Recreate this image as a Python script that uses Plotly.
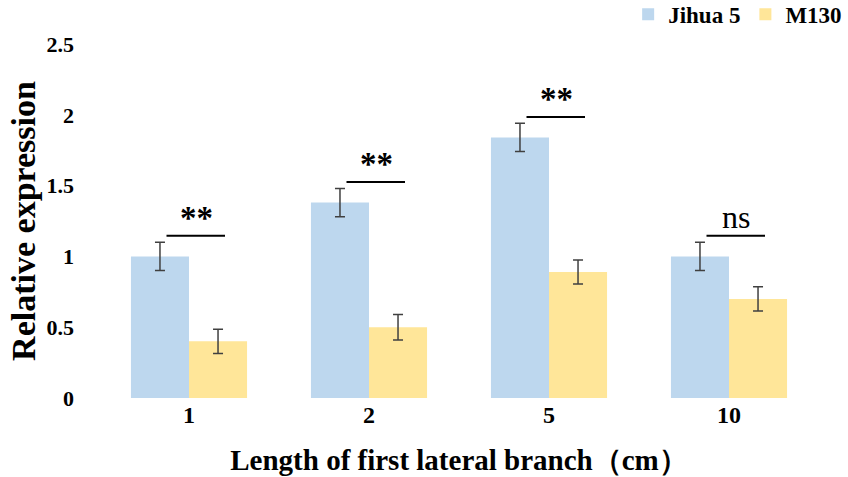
import plotly.graph_objects as go

categories = ["1", "2", "5", "10"]
jihua5 = [1.0, 1.38, 1.84, 1.0]
jihua5_err = [0.1, 0.1, 0.1, 0.1]
m130 = [0.4, 0.5, 0.89, 0.7]
m130_err = [0.085, 0.09, 0.085, 0.085]
sig_labels = ["**", "**", "**", "ns"]

BLUE = "#BDD7EE"
YELLOW = "#FFE699"
FONT = "Liberation Serif"

fig = go.Figure()
fig.add_trace(go.Bar(
    x=categories, y=jihua5, name="Jihua 5", marker=dict(color=BLUE, line=dict(width=0)),
    error_y=dict(type="data", array=jihua5_err, color="#404040", thickness=1.5, width=5),
))
fig.add_trace(go.Bar(
    x=categories, y=m130, name="M130", marker=dict(color=YELLOW, line=dict(width=0)),
    error_y=dict(type="data", array=m130_err, color="#404040", thickness=1.5, width=5),
))

for i, lab in enumerate(sig_labels):
    top = max(jihua5[i] + jihua5_err[i], m130[i] + m130_err[i])
    line_y = top + 0.045
    fig.add_shape(type="line", xref="x", yref="y", x0=i - 0.125, x1=i + 0.2,
                  y0=line_y, y1=line_y, line=dict(color="black", width=2))
    if lab == "ns":
        fig.add_annotation(x=i + 0.04, y=line_y, text=lab, showarrow=False, yanchor="bottom",
                           yshift=-1, font=dict(family=FONT, size=32, color="black"))
    else:
        fig.add_annotation(x=i + 0.04, y=line_y, text=lab, showarrow=False, yanchor="bottom",
                           yshift=-2, font=dict(family=FONT, size=33, color="black", weight="bold"))

fig.update_layout(
    width=848, height=477,
    margin=dict(l=99, r=29, t=44, b=79, autoexpand=False),
    paper_bgcolor="white", plot_bgcolor="white",
    barmode="group", bargap=0.355, bargroupgap=0,
    font=dict(family=FONT, color="black"),
    showlegend=True,
    legend=dict(orientation="h", xref="container", yref="container",
                x=0.999, xanchor="right", y=0.97, yanchor="middle",
                font=dict(family=FONT, size=23, weight="bold"), traceorder="normal",
                itemwidth=30, tracegroupgap=0),
    xaxis=dict(
        type="category", range=[-0.5, 3.5], showline=False, ticks="",
        tickfont=dict(family=FONT, size=24, weight="bold"),
        title=dict(text="Length of first lateral branch（cm）",
                   font=dict(family=FONT, size=29, weight="bold"), standoff=22),
    ),
    yaxis=dict(
        range=[0, 2.5], dtick=0.5, showgrid=False, zeroline=False, showline=False,
        ticks="", ticklabelstandoff=24,
        tickfont=dict(family=FONT, size=22, weight="bold"),
        title=dict(text="Relative expression",
                   font=dict(family=FONT, size=34, weight="bold"), standoff=0),
    ),
)

fig.write_html("out.html")
